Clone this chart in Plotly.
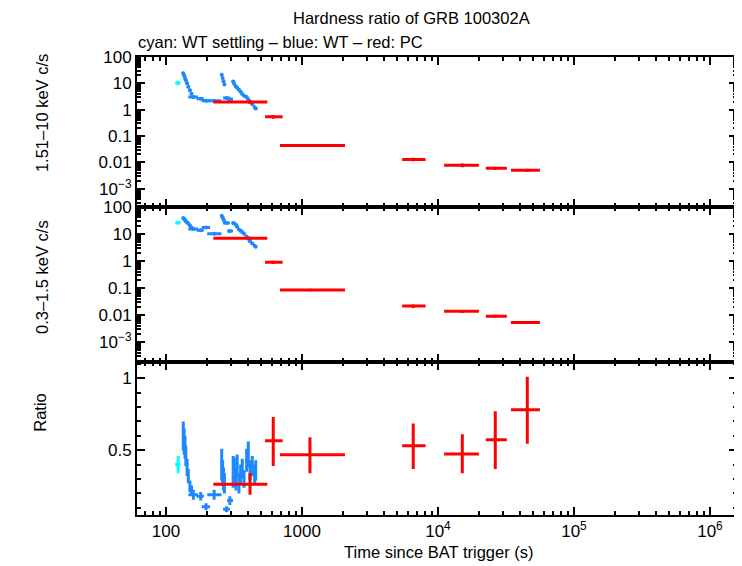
import plotly.graph_objects as go
from plotly.subplots import make_subplots

# WT settling (cyan)
set_t = [123]
set_lo = [117]
set_hi = [128]
set_hard = [10.3]
set_hard_err = [1.2]
set_soft = [25.6]
set_soft_err = [2.5]
set_ratio = [0.40]
set_ratio_err = [0.06]

# WT (blue)
wt_t = [134, 136, 138, 140, 143, 146, 150, 154, 159, 180, 197, 226,
        257, 261, 265, 269, 279, 295, 312, 318, 327, 334, 344, 354,
        364, 375, 392, 403, 415, 431, 449, 457]
wt_lo = [133, 135, 137, 139, 141.5, 144.5, 148, 152, 146, 168, 183, 201,
         255, 259, 263, 267, 263, 282, 309, 315, 322, 330, 338, 349,
         359, 369, 382, 398, 409, 422, 440, 454]
wt_hi = [135, 137, 139, 141.5, 144.5, 148, 152, 157, 172, 190, 211, 256,
         259, 263, 267, 271, 295, 311, 315, 322, 330, 338, 349, 359,
         369, 382, 398, 409, 422, 440, 454, 462]
wt_hard = [24, 20, 16, 13, 10, 7.5, 5.5, 4.0, 3.0, 2.6, 2.2, 2.2,
           21, 16, 12, 9, 2.8, 2.5, 11.8, 9.5, 7.6, 6.8, 5.7, 4.8,
           3.9, 3.4, 3.0, 2.5, 2.0, 1.6, 1.25, 1.1]
wt_soft = [38, 35, 32, 29, 26, 24, 20, 17, 15, 13.5, 17, 10,
           46, 40, 34, 28, 25, 12.6, 25, 24, 21.5, 18, 14.4, 13,
           11.6, 10, 8.0, 6.5, 5.3, 4.4, 3.6, 3.3]
wt_ratio = [0.60, 0.56, 0.52, 0.46, 0.38, 0.32, 0.25, 0.22, 0.19, 0.18, 0.107, 0.19,
            0.40, 0.34, 0.30, 0.27, 0.09, 0.15, 0.35, 0.35, 0.30, 0.39, 0.27, 0.33,
            0.37, 0.30, 0.43, 0.47, 0.36, 0.39, 0.33, 0.36]
wt_ratio_err = [0.10, 0.09, 0.08, 0.07, 0.06, 0.05, 0.04, 0.035, 0.035, 0.03, 0.025, 0.035,
                0.11, 0.09, 0.08, 0.07, 0.02, 0.03, 0.11, 0.10, 0.08, 0.08, 0.07, 0.07,
                0.07, 0.06, 0.08, 0.09, 0.07, 0.07, 0.07, 0.07]

# PC (red)
pc_t = [415, 615, 1145, 6580, 15100, 26400, 45400]
pc_lo = [223, 535, 689, 5460, 11100, 22500, 34400]
pc_hi = [556, 721, 2070, 8110, 20000, 32100, 56200]
pc_hard = [1.98, 0.54, 0.044, 0.013, 0.0078, 0.006, 0.005]
pc_hard_err = [0.3, 0.09, 0.006, 0.002, 0.0012, 0.0009, 0.0007]
pc_soft = [6.9, 0.89, 0.085, 0.0215, 0.0138, 0.0091, 0.0054]
pc_soft_err = [0.8, 0.12, 0.009, 0.003, 0.0017, 0.0013, 0.0007]
pc_ratio = [0.264, 0.566, 0.468, 0.53, 0.473, 0.573, 0.78]
pc_ratio_hi = [0.34, 0.73, 0.59, 0.685, 0.61, 0.77, 1.01]
pc_ratio_lo = [0.19, 0.39, 0.34, 0.37, 0.34, 0.37, 0.545]

FONT = "Liberation Sans, Arial, Helvetica, sans-serif"
CYAN = "#00ffff"
BLUE = "#1e88ff"
RED = "#ff0000"

fig = make_subplots(rows=3, cols=1, shared_xaxes=True, vertical_spacing=0,
                    row_heights=[149, 155, 152])


def add_series(t, lo, hi, y, row, color, yerr=None, yerr_hi=None, yerr_lo=None,
               width=3, msize=2):
    if yerr is not None:
        ey = dict(type="data", array=yerr, color=color, thickness=width, width=0)
    else:
        ey = dict(type="data", symmetric=False,
                  array=[h - v for h, v in zip(yerr_hi, y)],
                  arrayminus=[v - l for l, v in zip(yerr_lo, y)],
                  color=color, thickness=width, width=0)
    fig.add_trace(go.Scatter(
        x=t, y=y, mode="markers",
        marker=dict(size=msize, color=color),
        error_x=dict(type="data", symmetric=False,
                     array=[h - v for h, v in zip(hi, t)],
                     arrayminus=[v - l for l, v in zip(lo, t)],
                     color=color, thickness=width, width=0),
        error_y=ey,
        showlegend=False, hoverinfo="x+y",
    ), row=row, col=1)


# top: hard band
add_series(set_t, set_lo, set_hi, set_hard, 1, CYAN, yerr=set_hard_err, msize=4)
add_series(wt_t, wt_lo, wt_hi, wt_hard, 1, BLUE, yerr=[v * 0.1 for v in wt_hard], msize=4)
add_series(pc_t, pc_lo, pc_hi, pc_hard, 1, RED, yerr=pc_hard_err)
# middle: soft band
add_series(set_t, set_lo, set_hi, set_soft, 2, CYAN, yerr=set_soft_err, msize=4)
add_series(wt_t, wt_lo, wt_hi, wt_soft, 2, BLUE, yerr=[v * 0.08 for v in wt_soft], msize=4)
add_series(pc_t, pc_lo, pc_hi, pc_soft, 2, RED, yerr=pc_soft_err)
# bottom: ratio
add_series(set_t, set_lo, set_hi, set_ratio, 3, CYAN, yerr=set_ratio_err)
add_series(wt_t, wt_lo, wt_hi, wt_ratio, 3, BLUE, yerr=wt_ratio_err)
add_series(pc_t, pc_lo, pc_hi, pc_ratio, 3, RED, yerr_hi=pc_ratio_hi, yerr_lo=pc_ratio_lo)

x_major = [100, 1000, 1e4, 1e5, 1e6]
x_labels = ["100", "1000", "10<sup>4</sup>", "10<sup>5</sup>", "10<sup>6</sup>"]
x_minor = [m * 10 ** e for e in range(1, 7) for m in range(2, 10)]

y_major = [100, 10, 1, 0.1, 0.01, 0.001]
y_labels = ["100", "10", "1", "0.1", "0.01", "10<sup>\u22123</sup>"]
y_minor = [m * 10.0 ** e for e in range(-4, 3) for m in range(2, 10)]

axis_common = dict(showline=True, linecolor="black", linewidth=2, mirror="allticks",
                   ticks="inside", tickcolor="black", tickwidth=2, showgrid=False,
                   zeroline=False, tickfont=dict(family=FONT, size=17, color="black"))
minor_log = dict(ticks="inside", ticklen=4, tickwidth=2, tickcolor="black", showgrid=False)

for r in (1, 2, 3):
    fig.update_xaxes(type="log", range=[1.787, 6.199], tickvals=x_major, ticktext=x_labels,
                     ticklen=8, minor=dict(tickvals=x_minor, **minor_log),
                     showticklabels=(r == 3), row=r, col=1, **axis_common)

fig.update_yaxes(type="log", range=[-3.68, 2], tickvals=y_major, ticktext=y_labels, ticklen=8,
                 minor=dict(tickvals=y_minor, **minor_log), row=1, col=1, **axis_common)
fig.update_yaxes(type="log", range=[-3.74, 2], tickvals=y_major, ticktext=y_labels, ticklen=8,
                 minor=dict(tickvals=y_minor, **minor_log), row=2, col=1, **axis_common)
fig.update_yaxes(range=[0.05, 1.11], tickvals=[0.5, 1], ticktext=["0.5", "1"], ticklen=8,
                 minor=dict(dtick=0.1, **minor_log), row=3, col=1, **axis_common)

txt = dict(family=FONT, size=16.5, color="black")
notes = [
    ("Hardness ratio of GRB 100302A", 0.457, 1.085, 0),
    ("cyan: WT settling \u2013 blue: WT \u2013 red: PC", 0.239, 1.033, 0),
    ("1.51\u201310 keV c/s", -0.158, 0.878, -90),
    ("0.3\u20131.5 keV c/s", -0.158, 0.52, -90),
    ("Ratio", -0.162, 0.225, -90),
    ("Time since BAT trigger (s)", 0.502, -0.081, 0),
]
for text, x, y, ang in notes:
    fig.add_annotation(text=text, xref="paper", yref="paper", x=x, y=y, textangle=ang,
                       xanchor="center", yanchor="middle", showarrow=False, font=txt)

# page body adds an 8px offset, so margins are shifted to keep the plot area in place
fig.update_layout(width=742, height=566, plot_bgcolor="white", paper_bgcolor="white",
                  margin=dict(l=129, r=13, t=49, b=59), font=txt)

fig.write_html("out.html")
